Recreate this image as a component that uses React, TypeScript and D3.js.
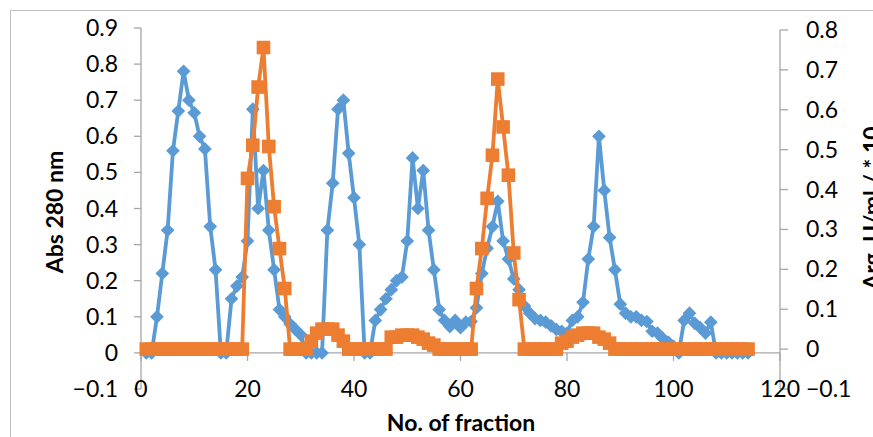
import React from 'react';
import * as d3 from 'd3';

// fraction numbers 1..114
const fractions = d3.range(1, 115);

// Abs 280 nm (left axis)
const absValues = [
  0, 0, 0.10, 0.22, 0.34, 0.56, 0.67, 0.78, 0.70, 0.665,
  0.60, 0.565, 0.35, 0.23, 0, 0, 0.15, 0.185, 0.21, 0.31,
  0.675, 0.40, 0.505, 0.34, 0.23, 0.12, 0.10, 0.08, 0.065, 0.05,
  0, 0, 0, 0, 0.34, 0.47, 0.675, 0.70, 0.553, 0.43,
  0.30, 0, 0, 0.09, 0.12, 0.15, 0.175, 0.20, 0.21, 0.31,
  0.54, 0.40, 0.505, 0.34, 0.23, 0.12, 0.09, 0.073, 0.09, 0.07,
  0.085, 0.087, 0.125, 0.22, 0.29, 0.35, 0.42, 0.31, 0.26, 0.205,
  0.175, 0.13, 0.11, 0.095, 0.09, 0.085, 0.075, 0.065, 0.06, 0.055,
  0.09, 0.10, 0.14, 0.26, 0.35, 0.60, 0.45, 0.32, 0.23, 0.135,
  0.11, 0.10, 0.10, 0.09, 0.087, 0.06, 0.055, 0.04, 0.03, 0.018,
  0, 0.09, 0.11, 0.082, 0.07, 0.055, 0.085, 0, 0, 0,
  0, 0, 0, 0
];

// Arg. U/ml (right axis)
const argValues = [
  0, 0, 0, 0, 0, 0, 0, 0, 0, 0,
  0, 0, 0, 0, 0, 0, 0, 0, 0, 0.428,
  0.511, 0.657, 0.756, 0.508, 0.357, 0.252, 0.152, 0, 0, 0,
  0, 0.02, 0.04, 0.05, 0.05, 0.05, 0.035, 0.02, 0, 0,
  0, 0, 0, 0, 0, 0, 0.03, 0.03, 0.035, 0.035,
  0.035, 0.03, 0.025, 0.015, 0.01, 0, 0, 0, 0, 0,
  0, 0, 0.152, 0.252, 0.378, 0.486, 0.677, 0.557, 0.436, 0.241,
  0.124, 0, 0, 0, 0, 0, 0, 0, 0.015, 0.02,
  0.03, 0.035, 0.04, 0.04, 0.04, 0.03, 0.025, 0.015, 0, 0,
  0, 0, 0, 0, 0, 0, 0, 0, 0, 0,
  0, 0, 0, 0, 0, 0, 0, 0, 0, 0,
  0, 0, 0, 0
];

const xTicks = [0, 20, 40, 60, 80, 100, 120];
const leftTicks = [-0.1, 0, 0.1, 0.2, 0.3, 0.4, 0.5, 0.6, 0.7, 0.8, 0.9];
const rightTicks = [-0.1, 0, 0.1, 0.2, 0.3, 0.4, 0.5, 0.6, 0.7, 0.8];

const W = 873;
const H = 437;
const blue = '#5B9BD5';
const orange = '#ED7D31';
const axisColor = '#A6A6A6';
const font = 'Lato, "Open Sans", sans-serif';

const App = () => {
  const x = d3.scaleLinear().domain([0, 120]).range([141, 780]);
  const yL = d3.scaleLinear().domain([-0.1, 0.9]).range([389, 28]);
  const yR = d3.scaleLinear().domain([-0.1, 0.8]).range([389, 30]);

  const blueLine = d3.line<number>()
    .x((d, i) => x(fractions[i]))
    .y(d => yL(d));
  const orangeLine = d3.line<number>()
    .x((d, i) => x(fractions[i]))
    .y(d => yR(d));

  const diamond = d3.symbol(d3.symbolDiamond2, 120)();
  const square = d3.symbol(d3.symbolSquare, 185)();

  const fmt = (v: number) => (v === 0 ? '0' : d3.format('.1f')(v));

  return (
    <svg width={W} height={H} style={{ position: 'absolute', left: 0, top: 0 }} fontFamily={font}>
      <rect x={0} y={0} width={W} height={H} fill="#fff" />
      <rect x={10.5} y={10.5} width={W + 20} height={H + 20} fill="none" stroke="#BFBFBF" />

      {/* left axis */}
      <line x1={x(0)} x2={x(0)} y1={yL(-0.1)} y2={yL(0.9)} stroke={axisColor} strokeWidth={1.3} />
      {leftTicks.map(t => (
        <g key={'l' + t}>
          <line x1={x(0) - 7} x2={x(0)} y1={yL(t)} y2={yL(t)} stroke={axisColor} strokeWidth={1.3} />
          <text x={118} y={yL(t)} dy="0.35em" textAnchor="end" fontSize={23}>{fmt(t)}</text>
        </g>
      ))}

      {/* right axis */}
      <line x1={x(120)} x2={x(120)} y1={yR(-0.1)} y2={yR(0.8)} stroke={axisColor} strokeWidth={1.3} />
      {rightTicks.map(t => (
        <g key={'r' + t}>
          <line x1={x(120)} x2={x(120) + 8} y1={yR(t)} y2={yR(t)} stroke={axisColor} strokeWidth={1.3} />
          <text x={806} y={yR(t)} dy="0.35em" textAnchor="start" fontSize={23}>{fmt(t)}</text>
        </g>
      ))}

      {/* x axis at zero */}
      <line x1={x(0)} x2={x(120)} y1={yL(0)} y2={yL(0)} stroke={axisColor} strokeWidth={1.3} />
      {xTicks.map(t => (
        <g key={'x' + t}>
          <line x1={x(t)} x2={x(t)} y1={yL(0)} y2={yL(0) + 8} stroke={axisColor} strokeWidth={1.3} />
          <text x={x(t)} y={yL(-0.1)} dy="0.35em" textAnchor="middle" fontSize={23}>{t}</text>
        </g>
      ))}

      {/* series */}
      <path d={blueLine(absValues) || ''} fill="none" stroke={blue} strokeWidth={3.8} strokeLinejoin="round" />
      {absValues.map((v, i) => (
        <path key={'b' + i} d={diamond || ''} transform={`translate(${x(fractions[i])},${yL(v)})`} fill={blue} />
      ))}
      <path d={orangeLine(argValues) || ''} fill="none" stroke={orange} strokeWidth={3.8} strokeLinejoin="round" />
      {argValues.map((v, i) => (
        <path key={'o' + i} d={square || ''} transform={`translate(${x(fractions[i])},${yR(v)})`} fill={orange} />
      ))}

      {/* titles */}
      <text transform={`translate(63,${212}) rotate(-90)`} textAnchor="middle" fontSize={23} fontWeight="bold">Abs 280 nm</text>
      <text transform={`translate(880,${208}) rotate(-90)`} textAnchor="middle" fontSize={23} fontWeight="bold">Arg.  U/ml / * 10</text>
      <text x={461} y={431} textAnchor="middle" fontSize={23} fontWeight="bold">No. of fraction</text>
    </svg>
  );
};

export default App;
